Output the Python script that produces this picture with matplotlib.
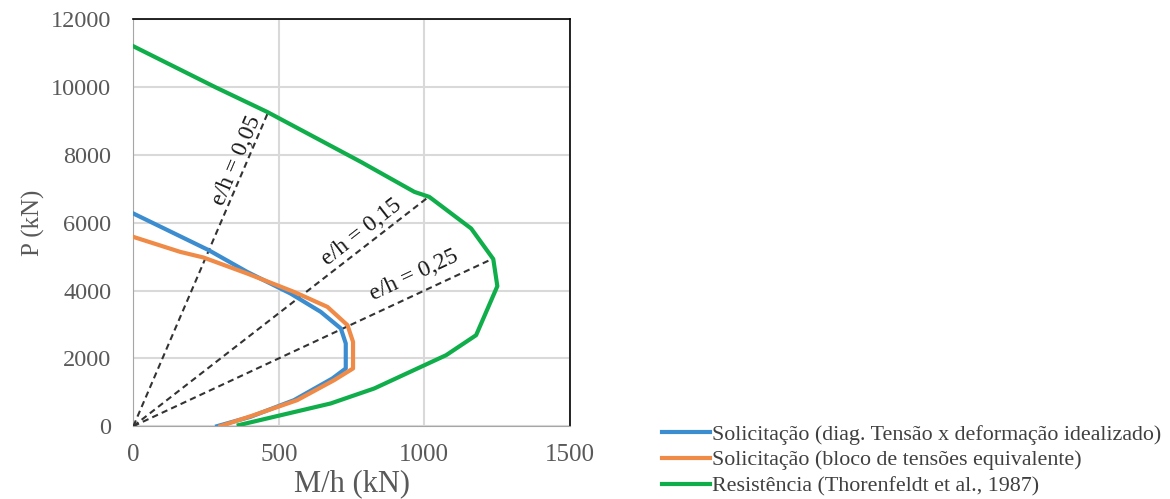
import numpy as np
import matplotlib
matplotlib.use("Agg")
import matplotlib.pyplot as plt

plt.rcParams['font.family'] = ['Liberation Serif', 'DejaVu Serif']

# ----- DATA -----
# Solicitacao (diag. tensao x deformacao idealizado)
blue_m = [0, 259, 391, 540, 644, 713, 730, 730, 684, 552, 402, 288]
blue_p = [6274, 5192, 4552, 3914, 3372, 2882, 2440, 1702, 1407, 767, 274, 0]

# Solicitacao (bloco de tensoes equivalente)
orange_m = [0, 161, 241, 391, 552, 667, 736, 755, 755, 690, 563, 414, 299]
orange_p = [5584, 5142, 4976, 4504, 3962, 3519, 2979, 2487, 1702, 1357, 767, 324, 0]

# Resistencia (Thorenfeldt et al., 1987)
green_m = [0, 282, 460, 782, 966, 1017, 1161, 1237, 1251, 1178, 1075, 828, 678, 362]
green_p = [11209, 10000, 9271, 7797, 6912, 6765, 5832, 4930, 4130, 2684, 2094, 1112, 669, 30]

# eccentricity rays
ecc = [0.05, 0.15, 0.25]
ecc_p = [9271, 6765, 4930]
ecc_labels = ['e/h = 0,05', 'e/h = 0,15', 'e/h = 0,25']
label_pos = [(355, 7850), (785, 5730), (965, 4460)]
label_rot = [67, 38, 25]

fig = plt.figure(figsize=(11.7, 4.99), dpi=100)
ax = fig.add_axes([0.114, 0.146, 0.373, 0.815])

for e, p in zip(ecc, ecc_p):
    ax.plot([0, e * p], [0, p], '--', color='#333333', lw=1.5, dashes=(3, 2), zorder=3)

ax.plot(blue_m, blue_p, color='#3c8dd0', lw=3, label='Solicitação (diag. Tensão x deformação idealizado)', zorder=4)
ax.plot(orange_m, orange_p, color='#ef8a47', lw=3, label='Solicitação (bloco de tensões equivalente)', zorder=4)
ax.plot(green_m, green_p, color='#0fae4a', lw=3, label='Resistência (Thorenfeldt et al., 1987)', zorder=4)

for txt, (x, y), r in zip(ecc_labels, label_pos, label_rot):
    ax.text(x, y, txt, rotation=r, ha='center', va='center', fontsize=17, color='#1a1a1a', zorder=5)

ax.set_xlim(0, 1500)
ax.set_ylim(0, 12000)
ax.set_xticks([0, 500, 1000, 1500])
ax.set_yticks(np.arange(0, 12001, 2000))
ax.grid(True, color='#d9d9d9', lw=1.5)
ax.set_axisbelow(True)
ax.tick_params(axis='x', length=0, labelsize=18, colors='#595959', pad=13)
ax.tick_params(axis='y', length=0, labelsize=17.5, colors='#595959', pad=16)
for s in ['left', 'bottom']:
    ax.spines[s].set_color('#a6a6a6')
for s in ['top', 'right']:
    ax.spines[s].set_color('black')
    ax.spines[s].set_linewidth(1.2)

ax.set_xlabel('M/h (kN)', fontsize=22, color='#595959', labelpad=2)
ax.set_ylabel('P (kN)', fontsize=18, color='#595959', labelpad=4)

leg = fig.legend(loc='lower left', bbox_to_anchor=(0.558, -0.012), frameon=False,
                 fontsize=15.8, handlelength=2.2, handletextpad=0.1, labelspacing=0.25,
                 borderaxespad=0.0)
for t in leg.get_texts():
    t.set_color('#404040')

fig.savefig('out.png', dpi=100)
